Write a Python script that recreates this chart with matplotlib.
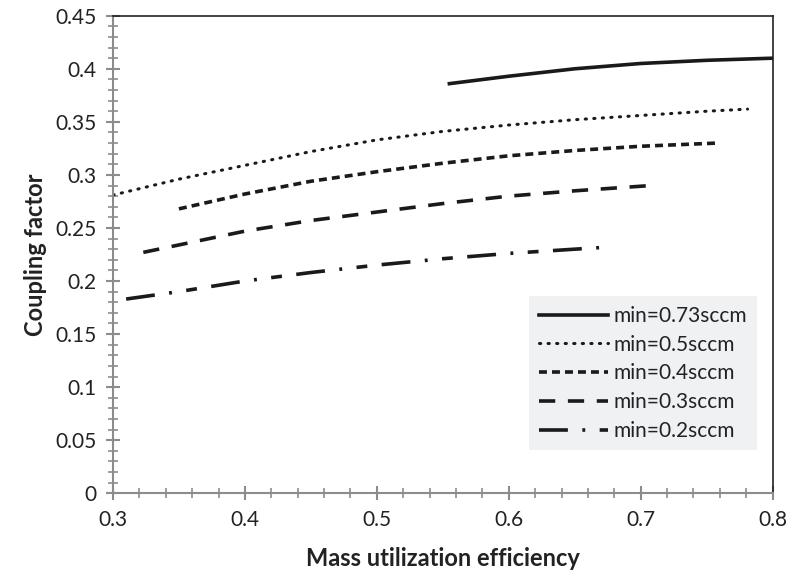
import numpy as np
import matplotlib.pyplot as plt
from matplotlib.ticker import MultipleLocator

plt.rcParams['font.family'] = ['Lato', 'DejaVu Sans']

# mass utilization efficiency (x) and coupling factor (y)
x_073 = [0.555, 0.60, 0.65, 0.70, 0.75, 0.80]
y_073 = [0.386, 0.393, 0.400, 0.405, 0.408, 0.410]

x_05 = [0.30, 0.35, 0.40, 0.45, 0.50, 0.55, 0.60, 0.65, 0.70, 0.75, 0.781]
y_05 = [0.281, 0.296, 0.309, 0.322, 0.333, 0.341, 0.347, 0.352, 0.356, 0.360, 0.362]

x_04 = [0.35, 0.40, 0.45, 0.50, 0.55, 0.60, 0.65, 0.70, 0.758]
y_04 = [0.268, 0.282, 0.294, 0.303, 0.311, 0.318, 0.323, 0.327, 0.330]

x_03 = [0.323, 0.35, 0.40, 0.45, 0.50, 0.55, 0.60, 0.65, 0.708]
y_03 = [0.227, 0.234, 0.247, 0.257, 0.265, 0.273, 0.280, 0.285, 0.290]

x_02 = [0.31, 0.35, 0.40, 0.45, 0.50, 0.55, 0.60, 0.65, 0.676]
y_02 = [0.183, 0.190, 0.200, 0.208, 0.215, 0.221, 0.226, 0.230, 0.232]

labels = ['min=0.73sccm', 'min=0.5sccm', 'min=0.4sccm', 'min=0.3sccm', 'min=0.2sccm']

fig = plt.figure(figsize=(7.9, 5.83), dpi=100)
ax = fig.add_axes([0.143, 0.154, 0.835, 0.819])

c = '#1a1a1a'
ax.plot(x_073, y_073, color=c, lw=2.6, ls='-', label=labels[0])
ax.plot(x_05, y_05, color=c, lw=2.2, ls=(0, (0.4, 2.4)), dash_capstyle='round', label=labels[1])
ax.plot(x_04, y_04, color=c, lw=2.6, ls=(0, (2.2, 1.4)), label=labels[2])
ax.plot(x_03, y_03, color=c, lw=2.6, ls=(0, (4.5, 3.5)), label=labels[3])
ax.plot(x_02, y_02, color=c, lw=2.6, ls=(0, (8, 4, 0.8, 4, 3, 4)), label=labels[4])

ax.set_xlim(0.3, 0.8)
ax.set_ylim(0, 0.45)
ax.xaxis.set_major_locator(MultipleLocator(0.1))
ax.xaxis.set_minor_locator(MultipleLocator(0.02))
ax.yaxis.set_major_locator(MultipleLocator(0.05))
ax.yaxis.set_minor_locator(MultipleLocator(0.01))
ax.xaxis.set_major_formatter(plt.FuncFormatter(lambda v, p: f'{v:g}'))
ax.yaxis.set_major_formatter(plt.FuncFormatter(lambda v, p: f'{v:g}'))

grey = '#8c8c8c'
for s in ['left', 'bottom']:
    ax.spines[s].set_color(grey)
    ax.spines[s].set_linewidth(1.5)
for s in ['top', 'right']:
    ax.spines[s].set_color('#222222')
    ax.spines[s].set_linewidth(1.2)
ax.tick_params(which='major', direction='inout', length=10, width=1.5, color=grey,
               labelsize=15, pad=7, labelcolor='#222222')
ax.tick_params(which='minor', direction='inout', length=7, width=1.2, color=grey)
ax.tick_params(axis='y', which='both', right=False)
ax.tick_params(axis='x', which='both', top=False)

ax.set_xlabel('Mass utilization efficiency', fontsize=17, fontweight='bold', labelpad=12,
              color='#222222')
ax.set_ylabel('Coupling factor', fontsize=17, fontweight='bold', labelpad=6,
              color='#222222')

leg = ax.legend(loc='lower right', bbox_to_anchor=(0.976, 0.09), fontsize=15,
                frameon=True, fancybox=False, handlelength=3.3, handletextpad=0.3,
                labelspacing=0.42, borderpad=0.45, borderaxespad=0)
leg.get_frame().set_facecolor('#f0f1f3')
leg.get_frame().set_edgecolor('none')
leg.get_frame().set_alpha(1)
for t in leg.get_texts():
    t.set_color('#222222')

fig.savefig('out.png', dpi=100)
